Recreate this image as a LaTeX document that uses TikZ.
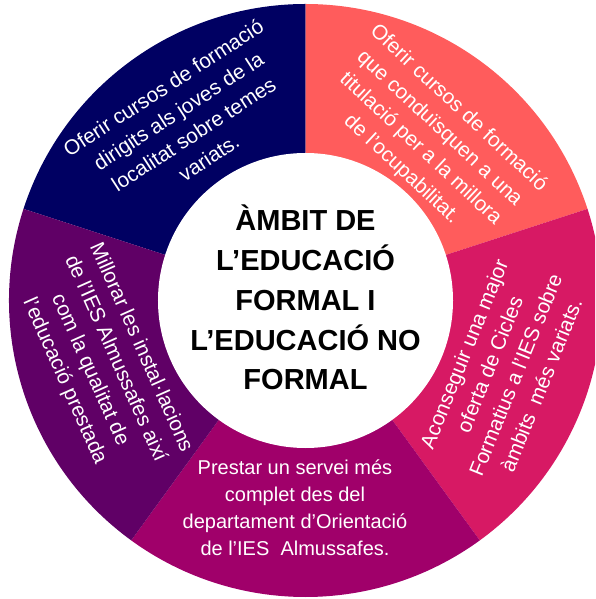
\documentclass[tikz,border=0pt]{standalone}
\usepackage{fontspec}
\setmainfont{Liberation Sans}
\definecolor{cnavy}{RGB}{0,0,98}
\definecolor{csalmon}{RGB}{255,92,92}
\definecolor{cpink}{RGB}{215,25,100}
\definecolor{cmagenta}{RGB}{160,0,106}
\definecolor{cpurple}{RGB}{96,0,102}
\begin{document}
\begin{tikzpicture}[x=1pt,y=1pt,
  segtext/.style={text=white, align=center, inner sep=0pt, font=\fontsize{20}{27}\selectfont},
  rottext/.style={segtext, font=\fontsize{20.8}{27.8}\selectfont},
  titletext/.style={text=black, align=center, inner sep=0pt, font=\bfseries\fontsize{29}{39.8}\selectfont}]
\useasboundingbox (-305.5,-298.5) rectangle (289.5,300.5);
\clip (-305.5,-298.5) rectangle (289.5,300.5);
\def\Ro{296.5}
\fill[cnavy] (0,0) -- (90:\Ro) arc[start angle=90,end angle=162,radius=\Ro] -- cycle;
\fill[csalmon] (0,0) -- (18:\Ro) arc[start angle=18,end angle=90,radius=\Ro] -- cycle;
\fill[cpink] (0,0) -- (-54:\Ro) arc[start angle=-54,end angle=18,radius=\Ro] -- cycle;
\fill[cmagenta] (0,0) -- (-126:\Ro) arc[start angle=-126,end angle=-54,radius=\Ro] -- cycle;
\fill[cpurple] (0,0) -- (162:\Ro) arc[start angle=162,end angle=234,radius=\Ro] -- cycle;
\node[circle, fill=white, minimum size=295pt, inner sep=0pt] (hub) at (0,0) {};
\node[titletext] (title) at (0,3) {ÀMBIT DE\\L’EDUCACIÓ\\FORMAL I\\L’EDUCACIÓ NO\\FORMAL};
\node[rottext, rotate=33] (t1) at (-119.5,178) {Oferir cursos de formació\\dirigits als joves de la\\localitat sobre temes\\variats.};
\node[rottext, rotate=-43] (t2) at (52.4:204) {Oferir cursos de formació\\que conduïsquen a una\\titulació per a la millora\\de l’ocupabilitat.};
\node[rottext, rotate=68] (t3) at (197,-69) {Aconseguir una major\\oferta de Cicles\\Formatius a l'IES sobre\\àmbits\ \ més variats.};
\node[segtext] (t4) at (-10.5,-207.5) {Prestar un servei més\\complet des del\\departament d’Orientació\\de l’IES\ \ Almussafes.};
\node[rottext, rotate=-66] (t5) at (-203,-64) {Millorar les instal·lacions\\de l'IES Almussafes així\\com la qualitat de\\l'educació prestada};
\end{tikzpicture}
\end{document}
